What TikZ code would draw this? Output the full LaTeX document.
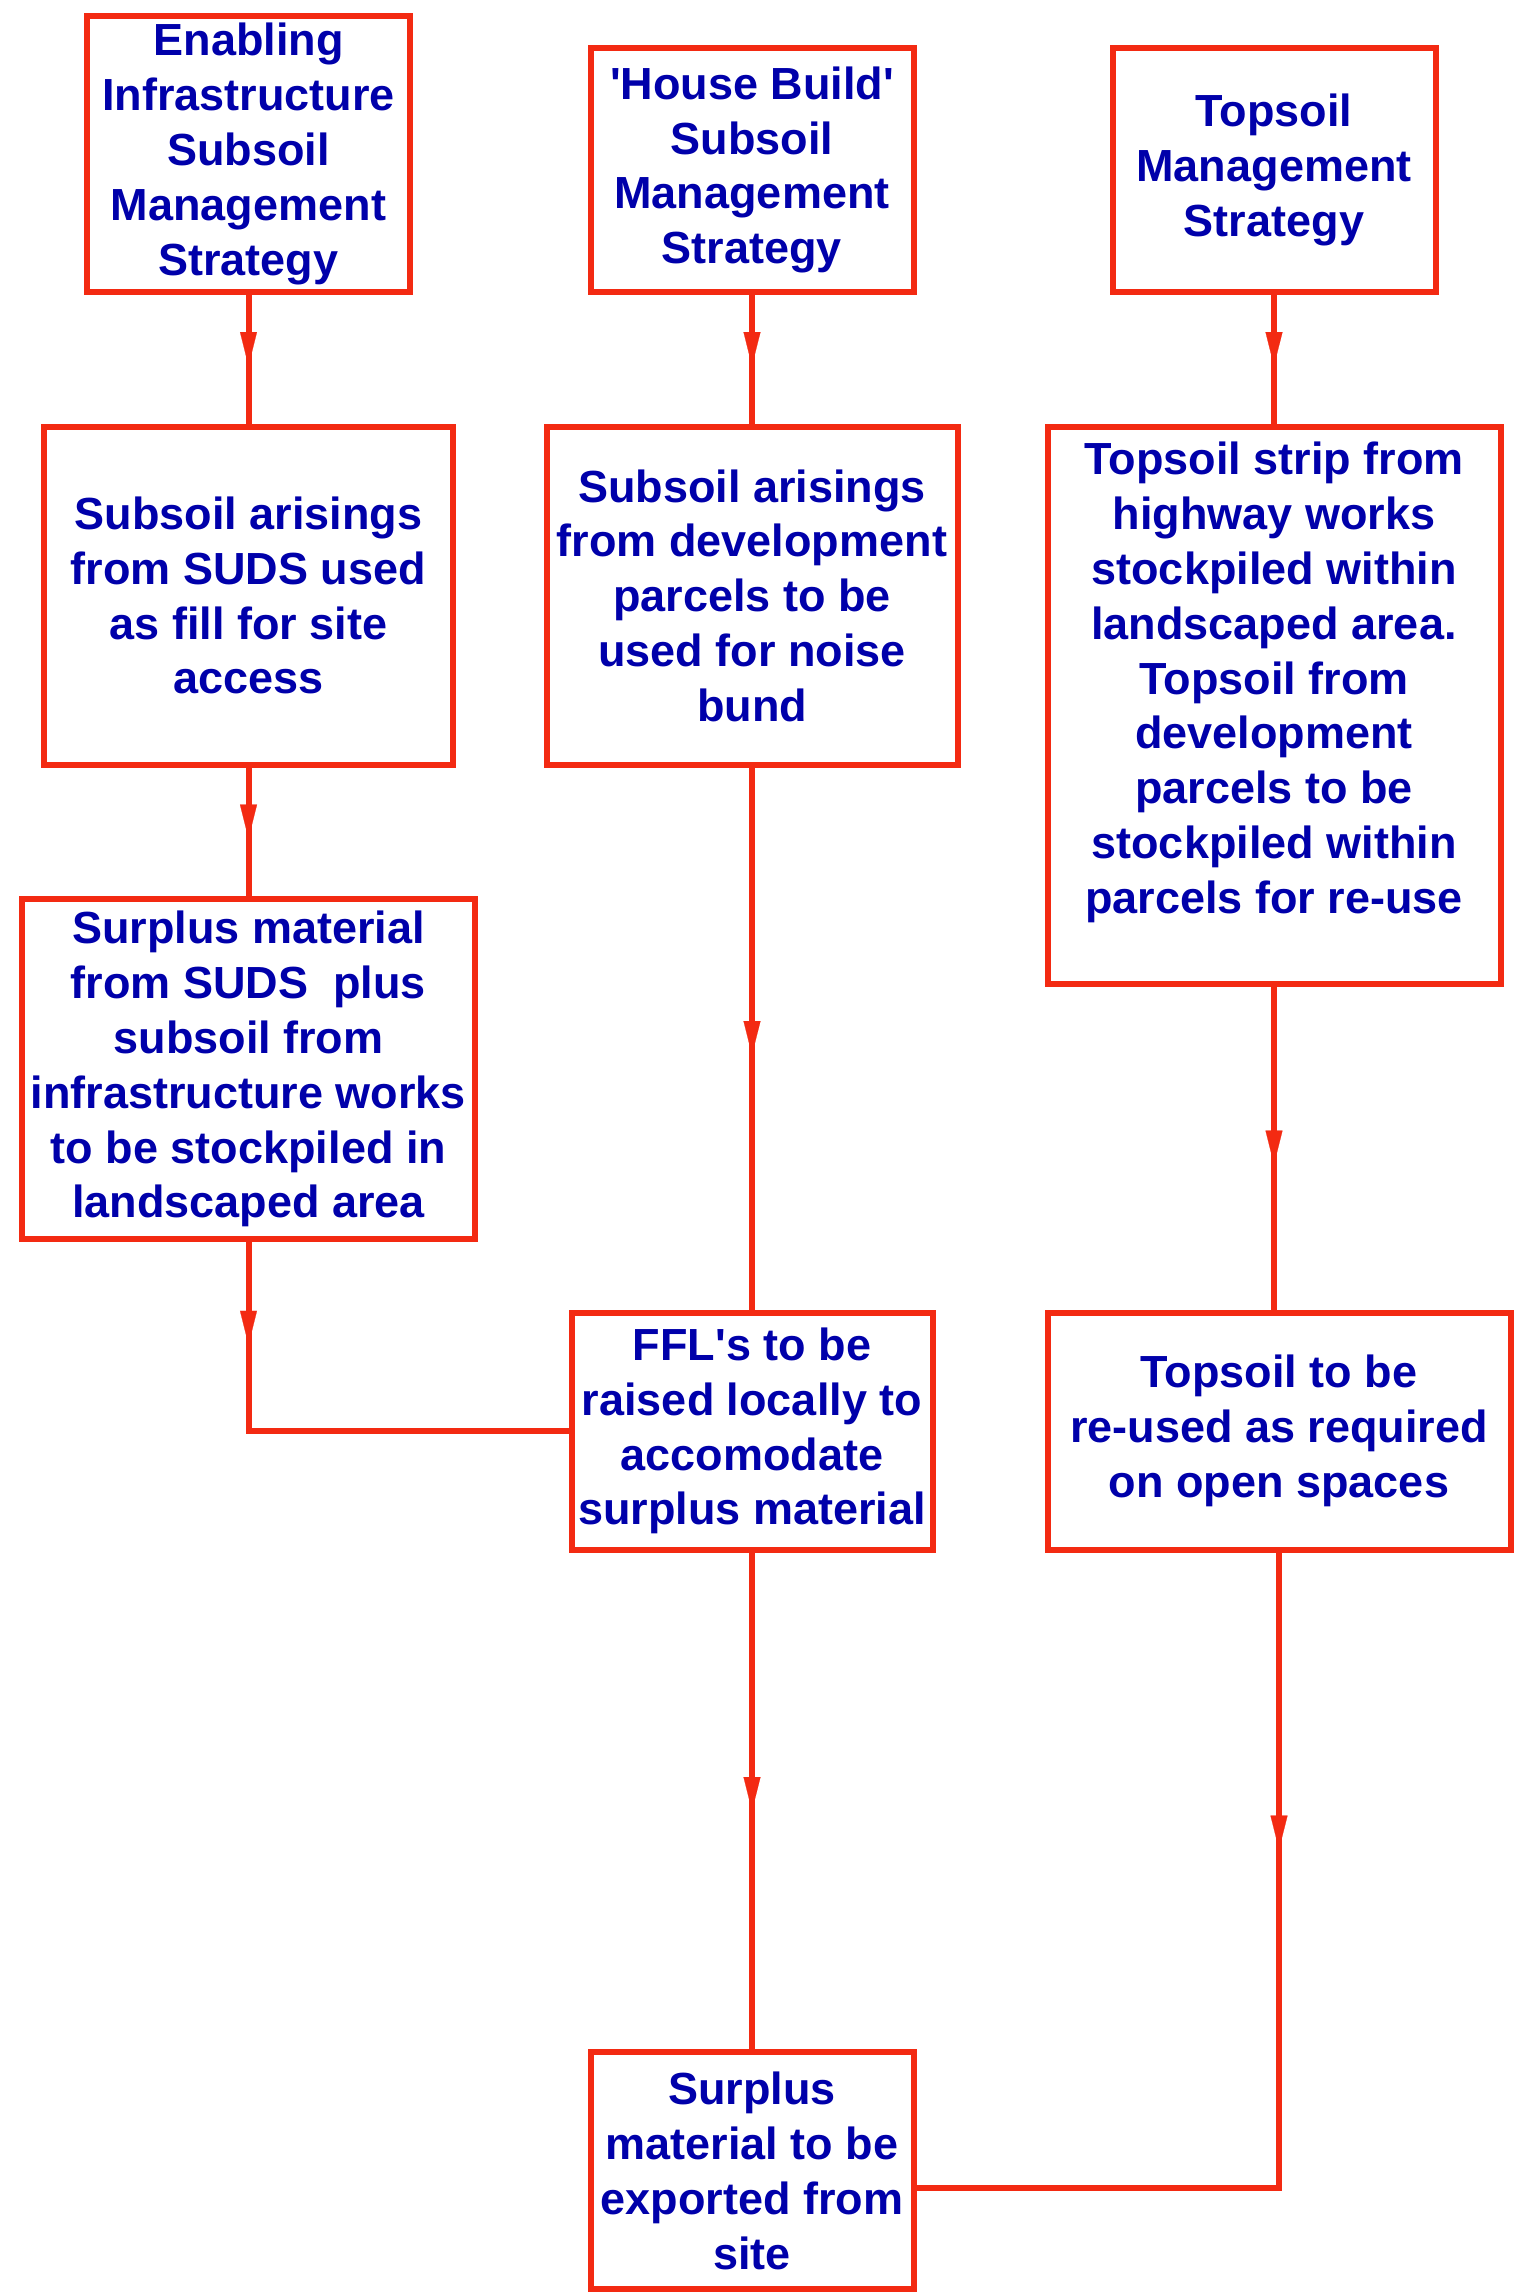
\documentclass[tikz,border=0pt]{standalone}
\usepackage{fontspec}
\setmainfont{Liberation Sans}
\usetikzlibrary{arrows.meta, positioning, decorations.markings, calc}
\definecolor{flowred}{HTML}{F32A12}
\definecolor{flowblue}{HTML}{0000AA}

\begin{document}
\begin{tikzpicture}[
      box/.style={
        rectangle,
        draw=flowred,
        line width=3pt,
        outer sep=0pt,
        inner sep=2pt,
        minimum width=161.5pt,
        minimum height=122pt,
        align=center,
        text=flowblue,
        font=\fontsize{22.5pt}{27.4pt}\selectfont\bfseries
      },
      wide/.style={box, minimum width=205pt, minimum height=169pt},
      short/.style={box, minimum height=118.5pt},
      wire/.style={flowred, line width=3pt, line cap=rect},
      midarr/.style={wire, postaction={decorate},
        decoration={markings, mark=at position #1 with
          {\arrow{Triangle[length=17pt, width=8.5pt, line width=0.1pt]}}}},
      midarr/.default=0.55
    ]
      \useasboundingbox (0,0) rectangle (763pt,-1146pt);

      % strategy boxes
      \node[box, minimum height=138pt] (infra) at (124.25pt,-77pt)
        {Enabling\\Infrastructure\\Subsoil\\Management\\Strategy};
      \node[box] (house) at (376pt,-85pt)
        {\textquotesingle House Build\textquotesingle\\Subsoil\\Management\\Strategy};
      \node[box] (topsoil) at (637pt,-85pt)
        {Topsoil\\Management\\Strategy};

      % arisings
      \node[wide, minimum width=204.5pt, below=67.3pt of infra] (sudsfill)
        {Subsoil arisings\\from SUDS used\\as fill for site\\access};
      \node[wide, minimum width=205.5pt, below=67.3pt of house] (bund)
        {Subsoil arisings\\from development\\parcels to be\\used for noise\\bund};
      \node[box, minimum width=226.5pt, minimum height=278.5pt, below=67.3pt of topsoil] (strip)
        {Topsoil strip from\\highway works\\stockpiled within\\landscaped area.\\Topsoil from\\development\\parcels to be\\stockpiled within\\parcels for re-use\\\mbox{}};

      \node[box, minimum width=226.5pt, minimum height=170pt, below=67.3pt of sudsfill] (surplus)
        {Surplus material\\from SUDS\ \ plus\\subsoil from\\infrastructure works\\to be stockpiled in\\landscaped area};
      \node[short, minimum width=180.5pt, below=274pt of bund] (ffl)
        {FFL\textquotesingle s to be\\raised locally to\\accomodate\\surplus material};
      \node[short, minimum width=231.5pt, below=164.5pt of strip, xshift=2.5pt] (reuse)
        {Topsoil to be\\re-used as required\\on open spaces};
      \node[short, below=251.4pt of ffl] (export)
        {Surplus\\material to be\\exported from\\site};

      % connectors
      \draw[midarr] (infra) -- (sudsfill);
      \draw[midarr] (house) -- (bund);
      \draw[midarr] (topsoil) -- (strip);
      \draw[midarr] (sudsfill) -- (surplus);
      \draw[midarr=0.53] (bund) -- (ffl);
      \draw[midarr] (strip) -- (strip |- reuse.north);
      \draw[midarr=0.52] (ffl) -- (export);

      \coordinate (bendA) at (surplus |- ffl);
      \draw[midarr] (surplus) -- (bendA);
      \draw[wire] (bendA) -- (ffl);

      \coordinate (bendB) at ($(reuse |- export)+(0,-8.5pt)$);
      \draw[midarr=0.47] (reuse) -- (bendB);
      \draw[wire] (bendB) -- (export.east |- bendB);
    \end{tikzpicture}
\end{document}
